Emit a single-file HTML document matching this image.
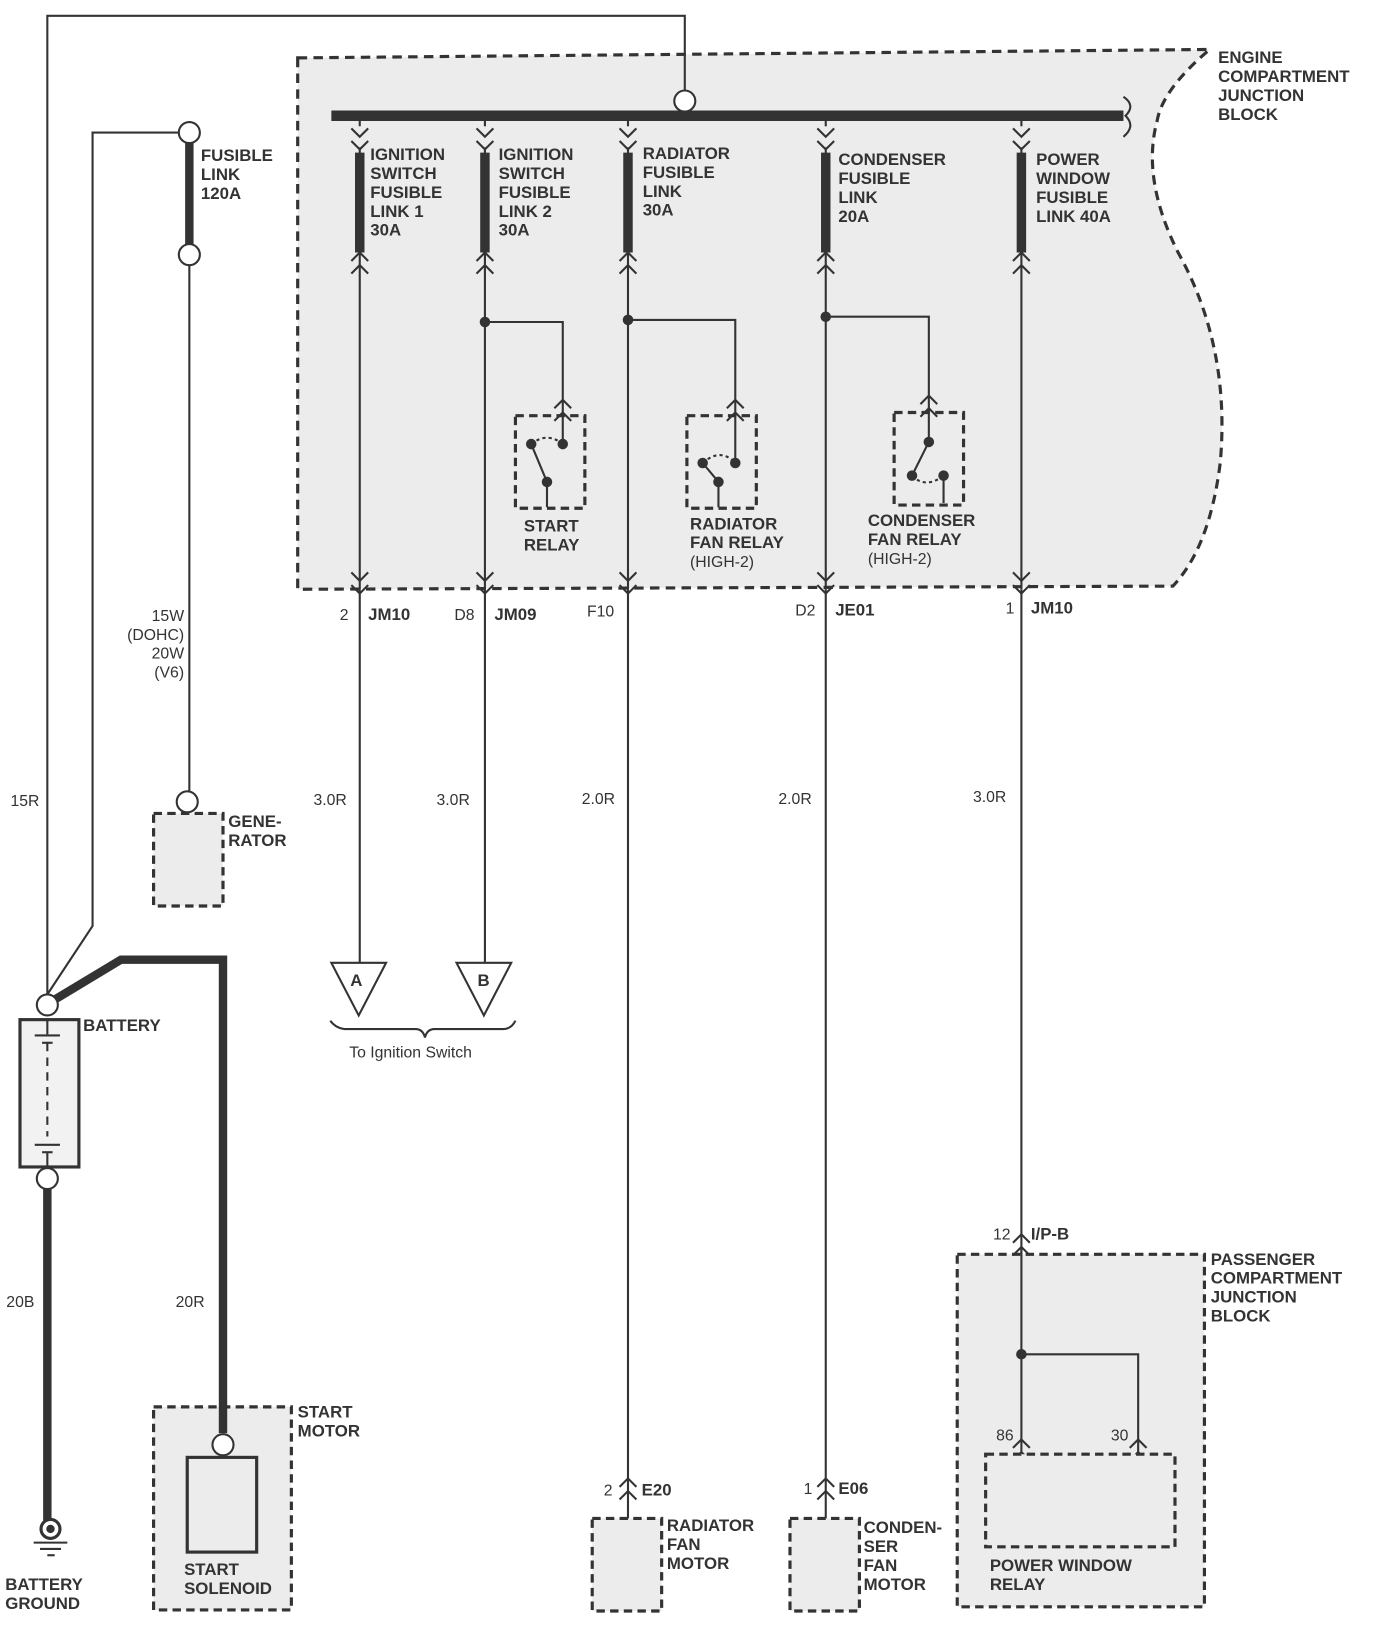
<!DOCTYPE html>
<html><head><meta charset="utf-8"><style>
html,body{margin:0;padding:0;background:#fff}
svg{display:block}
text{font-family:"Liberation Sans",Arial,sans-serif;fill:#333}
.b{font-weight:bold;font-size:16px}
.n{font-size:15px}
</style></head><body>
<svg width="1378" height="1651" viewBox="0 0 1310 1569" preserveAspectRatio="none" xmlns="http://www.w3.org/2000/svg">
<defs>
<g id="dn" fill="none" stroke="#333" stroke-width="2"><path d="M-8,-8 L0,0 L8,-8 M-8,4 L0,12 L8,4"/></g>
<g id="up" fill="none" stroke="#333" stroke-width="2"><path d="M-8,8 L0,0 L8,8 M-8,-4 L0,-12 L8,-4"/></g>
</defs>
<!-- engine box -->
<path d="M283,55 L1150,47 Q1105,85 1100,115 Q1085,170 1120,240 Q1170,330 1160,440 Q1150,520 1115,557 L283,560 Z" fill="#ececec" stroke="#333" stroke-width="3" stroke-dasharray="9,6"/>
<text class="b" x="1158" y="60">ENGINE</text>
<text class="b" x="1158" y="78">COMPARTMENT</text>
<text class="b" x="1158" y="96">JUNCTION</text>
<text class="b" x="1158" y="114">BLOCK</text>
<!-- top wire -->
<path d="M45,945 L45,15 L651,15 L651,86" fill="none" stroke="#333" stroke-width="2"/>
<circle cx="651" cy="96" r="10" fill="#fff" stroke="#333" stroke-width="2"/>
<line x1="315" y1="110" x2="1068" y2="110" stroke="#333" stroke-width="10"/>
<path d="M1068,92 Q1080,100 1070,110 Q1080,120 1068,130" fill="none" stroke="#333" stroke-width="2"/>
<!-- columns -->
<g stroke="#333" fill="none">
<line x1="342" y1="110" x2="342" y2="560" stroke-width="2"/>
<line x1="461" y1="110" x2="461" y2="560" stroke-width="2"/>
<line x1="597" y1="110" x2="597" y2="560" stroke-width="2"/>
<line x1="785" y1="110" x2="785" y2="560" stroke-width="2"/>
<line x1="971" y1="110" x2="971" y2="560" stroke-width="2"/>
<line x1="342" y1="145" x2="342" y2="240" stroke-width="9"/>
<line x1="461" y1="145" x2="461" y2="240" stroke-width="9"/>
<line x1="597" y1="145" x2="597" y2="240" stroke-width="9"/>
<line x1="785" y1="145" x2="785" y2="240" stroke-width="9"/>
<line x1="971" y1="145" x2="971" y2="240" stroke-width="9"/>
</g>
<g fill="#ececec"><rect x="330" y="120" width="24" height="20"/><rect x="449" y="120" width="24" height="20"/><rect x="585" y="120" width="24" height="20"/><rect x="773" y="120" width="24" height="20"/><rect x="959" y="120" width="24" height="20"/></g>
<use href="#dn" x="342" y="130"/><use href="#dn" x="461" y="130"/><use href="#dn" x="597" y="130"/><use href="#dn" x="785" y="130"/><use href="#dn" x="971" y="130"/>
<use href="#up" x="342" y="252"/><use href="#up" x="461" y="252"/><use href="#up" x="597" y="252"/><use href="#up" x="785" y="252"/><use href="#up" x="971" y="252"/>
<use href="#dn" x="342" y="552"/><use href="#dn" x="461" y="552"/><use href="#dn" x="597" y="552"/><use href="#dn" x="785" y="552"/><use href="#dn" x="971" y="552"/>
<text class="b"><tspan x="352" y="152">IGNITION</tspan><tspan x="352" y="170">SWITCH</tspan><tspan x="352" y="188">FUSIBLE</tspan><tspan x="352" y="206">LINK 1</tspan><tspan x="352" y="224">30A</tspan></text>
<text class="b"><tspan x="474" y="152">IGNITION</tspan><tspan x="474" y="170">SWITCH</tspan><tspan x="474" y="188">FUSIBLE</tspan><tspan x="474" y="206">LINK 2</tspan><tspan x="474" y="224">30A</tspan></text>
<text class="b"><tspan x="611" y="151">RADIATOR</tspan><tspan x="611" y="169">FUSIBLE</tspan><tspan x="611" y="187">LINK</tspan><tspan x="611" y="205">30A</tspan></text>
<text class="b"><tspan x="797" y="157">CONDENSER</tspan><tspan x="797" y="175">FUSIBLE</tspan><tspan x="797" y="193">LINK</tspan><tspan x="797" y="211">20A</tspan></text>
<text class="b"><tspan x="985" y="157">POWER</tspan><tspan x="985" y="175">WINDOW</tspan><tspan x="985" y="193">FUSIBLE</tspan><tspan x="985" y="211">LINK 40A</tspan></text>
<!-- relays -->
<g stroke="#333" stroke-width="2" fill="none">
<path d="M461,306 L535,306 L535,422"/><path d="M597,304 L699,304 L699,440"/><path d="M785,301 L883,301 L883,420"/>
<rect x="490" y="395" width="66" height="88" stroke-width="3" stroke-dasharray="8,5"/>
<rect x="653" y="395" width="66" height="88" stroke-width="3" stroke-dasharray="8,5"/>
<rect x="850" y="392" width="66" height="88" stroke-width="3" stroke-dasharray="8,5"/>
<path d="M505,422 L520,458 L520,482"/><path d="M505,422 Q520,410 535,422" stroke-dasharray="3,3"/>
<path d="M668,440 L683,458 L683,482"/><path d="M668,440 Q685,425 699,440" stroke-dasharray="3,3"/>
<path d="M883,420 L867,452"/><path d="M867,452 Q880,465 897,452" stroke-dasharray="3,3"/><path d="M897,452 L897,478"/>
</g>
<use href="#up" x="535" y="392"/><use href="#up" x="699" y="392"/><use href="#up" x="883" y="388"/>
<g fill="#333"><circle cx="461" cy="306" r="5"/><circle cx="597" cy="304" r="5"/><circle cx="785" cy="301" r="5"/>
<circle cx="505" cy="422" r="5"/><circle cx="535" cy="422" r="5"/><circle cx="520" cy="458" r="5"/>
<circle cx="668" cy="440" r="5"/><circle cx="699" cy="440" r="5"/><circle cx="683" cy="458" r="5"/>
<circle cx="883" cy="420" r="5"/><circle cx="867" cy="452" r="5"/><circle cx="897" cy="452" r="5"/></g>
<text class="b"><tspan x="498" y="505">START</tspan><tspan x="498" y="523">RELAY</tspan></text>
<text class="b"><tspan x="656" y="503">RADIATOR</tspan><tspan x="656" y="521">FAN RELAY</tspan></text><text class="n" x="656" y="539">(HIGH-2)</text>
<text class="b"><tspan x="825" y="500">CONDENSER</tspan><tspan x="825" y="518">FAN RELAY</tspan></text><text class="n" x="825" y="536">(HIGH-2)</text>
<!-- below box -->
<g stroke="#333" stroke-width="2" fill="none">
<line x1="342" y1="560" x2="342" y2="915"/><line x1="461" y1="560" x2="461" y2="915"/>
<line x1="597" y1="560" x2="597" y2="1443"/><line x1="785" y1="560" x2="785" y2="1443"/>
<line x1="971" y1="560" x2="971" y2="1287"/>
<path d="M315,915 L367,915 L341,965 Z M434,915 L486,915 L460,965 Z"/>
<path d="M314,970 Q320,978 330,978 L395,978 Q402,978 404,986 Q406,978 413,978 L478,978 Q486,978 490,970"/>
</g>
<text class="n" x="323" y="589">2</text><text class="b" x="350" y="589">JM10</text>
<text class="n" x="432" y="589">D8</text><text class="b" x="470" y="589">JM09</text>
<text class="n" x="558" y="586">F10</text>
<text class="n" x="756" y="585">D2</text><text class="b" x="794" y="585">JE01</text>
<text class="n" x="956" y="583">1</text><text class="b" x="980" y="583">JM10</text>
<text class="n" x="298" y="765">3.0R</text><text class="n" x="415" y="765">3.0R</text><text class="n" x="553" y="764">2.0R</text><text class="n" x="740" y="764">2.0R</text><text class="n" x="925" y="762">3.0R</text>
<text class="b" x="333" y="937">A</text><text class="b" x="454" y="937">B</text>
<text class="n" x="332" y="1005">To Ignition Switch</text>
<!-- left side -->
<path d="M45,945 L88,880 L88,126 L170,126" fill="none" stroke="#333" stroke-width="2"/>
<circle cx="180" cy="126" r="10" fill="#fff" stroke="#333" stroke-width="2"/>
<line x1="180" y1="136" x2="180" y2="232" stroke="#333" stroke-width="8"/>
<circle cx="180" cy="242" r="10" fill="#fff" stroke="#333" stroke-width="2"/>
<line x1="180" y1="252" x2="180" y2="752" stroke="#333" stroke-width="2"/>
<rect x="146" y="773" width="66" height="88" fill="#ececec" stroke="#333" stroke-width="3" stroke-dasharray="8,5"/>
<circle cx="178" cy="762" r="10" fill="#fff" stroke="#333" stroke-width="2"/>
<text class="b"><tspan x="191" y="153">FUSIBLE</tspan><tspan x="191" y="171">LINK</tspan><tspan x="191" y="189">120A</tspan></text>
<text class="n" text-anchor="end"><tspan x="175" y="590">15W</tspan><tspan x="175" y="608">(DOHC)</tspan><tspan x="175" y="626">20W</tspan><tspan x="175" y="644">(V6)</tspan></text>
<text class="b"><tspan x="217" y="786">GENE-</tspan><tspan x="217" y="804">RATOR</tspan></text>
<text class="n" x="10" y="766">15R</text>
<!-- start motor -->
<rect x="146" y="1337" width="131" height="193" fill="#ececec" stroke="#333" stroke-width="3" stroke-dasharray="8,5"/>
<rect x="178" y="1385" width="66" height="90" fill="#ececec" stroke="#333" stroke-width="3"/>
<path d="M52,950 L115,912 L212,912 L212,1362" fill="none" stroke="#333" stroke-width="8"/>
<circle cx="212" cy="1373" r="10" fill="#fff" stroke="#333" stroke-width="2"/>
<text class="b"><tspan x="283" y="1347">START</tspan><tspan x="283" y="1365">MOTOR</tspan></text>
<text class="b"><tspan x="175" y="1497">START</tspan><tspan x="175" y="1515">SOLENOID</tspan></text>
<!-- battery -->
<circle cx="45" cy="955" r="10" fill="#fff" stroke="#333" stroke-width="2"/>
<rect x="19" y="969" width="56" height="140" fill="#f2f2f2" stroke="#333" stroke-width="3"/>
<g stroke="#333" stroke-width="2"><line x1="45" y1="969" x2="45" y2="983"/><line x1="33" y1="984" x2="57" y2="984"/><line x1="40" y1="991" x2="50" y2="991"/><line x1="45" y1="991" x2="45" y2="1080" stroke-dasharray="8,6"/><line x1="33" y1="1088" x2="57" y2="1088"/><line x1="40" y1="1095" x2="50" y2="1095"/><line x1="45" y1="1095" x2="45" y2="1109"/></g>
<text class="b" x="79" y="980">BATTERY</text>
<circle cx="45" cy="1120" r="10" fill="#fff" stroke="#333" stroke-width="2"/>
<line x1="45" y1="1130" x2="45" y2="1445" stroke="#333" stroke-width="8"/>
<circle cx="48" cy="1453" r="9" fill="#fff" stroke="#333" stroke-width="3"/><circle cx="48" cy="1453" r="4" fill="#333"/>
<g stroke="#333" stroke-width="2"><line x1="32" y1="1466" x2="64" y2="1466"/><line x1="38" y1="1472" x2="58" y2="1472"/><line x1="45" y1="1478" x2="52" y2="1478"/></g>
<text class="b"><tspan x="5" y="1511">BATTERY</tspan><tspan x="5" y="1529">GROUND</tspan></text>
<text class="n" x="6" y="1242">20B</text><text class="n" x="167" y="1242">20R</text>
<!-- motors -->
<use href="#up" x="597" y="1417"/><use href="#up" x="785" y="1417"/>
<text class="n" x="574" y="1421">2</text><text class="b" x="610" y="1421">E20</text>
<text class="n" x="764" y="1420">1</text><text class="b" x="797" y="1420">E06</text>
<rect x="563" y="1443" width="66" height="88" fill="#ececec" stroke="#333" stroke-width="3" stroke-dasharray="8,5"/>
<rect x="751" y="1443" width="66" height="88" fill="#ececec" stroke="#333" stroke-width="3" stroke-dasharray="8,5"/>
<text class="b"><tspan x="634" y="1455">RADIATOR</tspan><tspan x="634" y="1473">FAN</tspan><tspan x="634" y="1491">MOTOR</tspan></text>
<text class="b"><tspan x="821" y="1457">CONDEN-</tspan><tspan x="821" y="1475">SER</tspan><tspan x="821" y="1493">FAN</tspan><tspan x="821" y="1511">MOTOR</tspan></text>
<!-- passenger box -->
<rect x="910" y="1192" width="235" height="335" fill="#ececec" stroke="#333" stroke-width="3" stroke-dasharray="8,5"/>
<use href="#up" x="971" y="1185"/>
<text class="n" x="944" y="1178">12</text><text class="b" x="980" y="1178">I/P-B</text>
<text class="b"><tspan x="1151" y="1202">PASSENGER</tspan><tspan x="1151" y="1220">COMPARTMENT</tspan><tspan x="1151" y="1238">JUNCTION</tspan><tspan x="1151" y="1256">BLOCK</tspan></text>
<path d="M971,1185 L971,1380 M971,1287 L1082,1287 L1082,1380" fill="none" stroke="#333" stroke-width="2"/>
<circle cx="971" cy="1287" r="5" fill="#333"/>
<use href="#up" x="971" y="1380"/><use href="#up" x="1082" y="1380"/>
<rect x="937" y="1382" width="180" height="88" fill="#ececec" stroke="#333" stroke-width="3" stroke-dasharray="8,5"/>
<text class="n" x="947" y="1369">86</text><text class="n" x="1056" y="1369">30</text>
<text class="b"><tspan x="941" y="1493">POWER WINDOW</tspan><tspan x="941" y="1511">RELAY</tspan></text>
</svg>
</body></html>
